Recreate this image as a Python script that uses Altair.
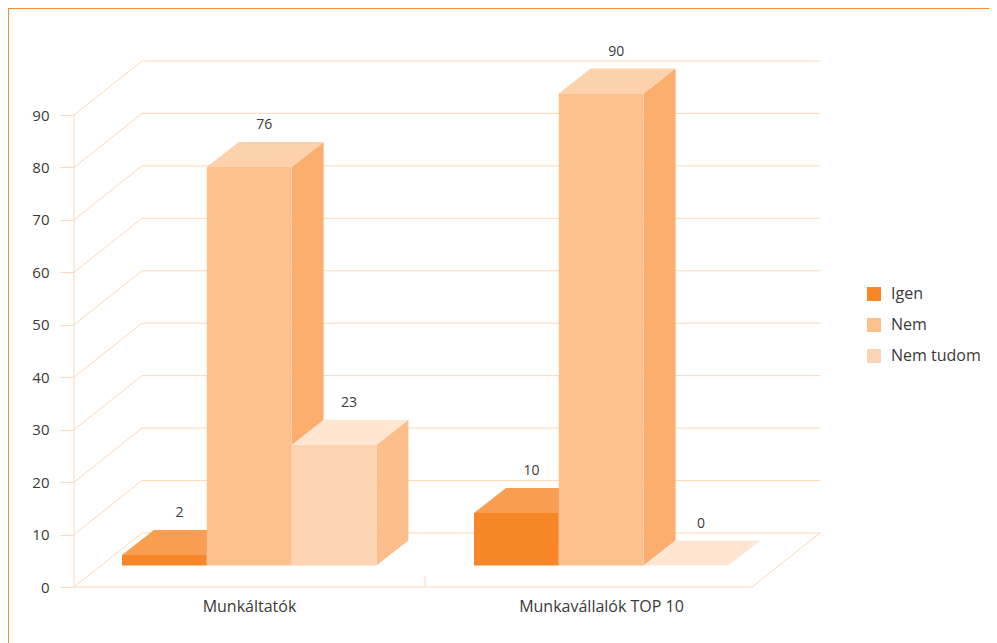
import altair as alt
import pandas as pd

groups = ["Munkáltatók", "Munkavállalók TOP 10"]
series = ["Igen", "Nem", "Nem tudom"]
values = {"Igen": [2, 10], "Nem": [76, 90], "Nem tudom": [23, 0]}
y_ticks = [0, 10, 20, 30, 40, 50, 60, 70, 80, 90]

front_colors = ["#F78628", "#FCC08C", "#FDD4B3"]
top_colors = ["#F99D50", "#FDD1AC", "#FEE6D3"]
side_colors = ["#F99D50", "#FCAE6E", "#FCBF8B"]
grid_color = "#FDD9B8"
frame_color = "#F78B36"
text_color = "#3A3A3A"
font = "Open Sans"

# plot coordinate system
X_MAX, Y_MAX = 746, 100.3
FLOOR_W = 678
WALL_DX, WALL_DY = 68, 10.3
BAR_W = 84.8
BAR_DX, BAR_DY = 32, 4.77
BASE = 4.1
group_start = [48, 400]
group_center = [175.5, 527.5]
divider_x = 351

xs = alt.Scale(domain=[0, X_MAX], nice=False, zero=False)
ys = alt.Scale(domain=[0, Y_MAX], nice=False, zero=False)
yaxis = alt.Axis(values=y_ticks, title=None, domain=False, grid=False, tickColor=grid_color,
                 tickSize=14, tickWidth=1, labelPadding=11, labelFont=font, labelFontSize=15,
                 labelColor=text_color, format="d")
X = alt.X("x:Q", scale=xs, axis=None, title=None)
Y = alt.Y("y:Q", scale=ys, axis=yaxis, title=None)
color_scale = alt.Scale(domain=series, range=front_colors)


def rule(rows, color=grid_color):
    return alt.Chart(pd.DataFrame(rows, columns=["x", "x2", "y", "y2"])).mark_rule(
        color=color, strokeWidth=1
    ).encode(X, Y, x2="x2:Q", y2="y2:Q")


layers = []
# back wall, left wall, floor
layers.append(rule([[WALL_DX, X_MAX, v + WALL_DY, v + WALL_DY] for v in y_ticks]))
layers.append(rule([[0, WALL_DX, v, v + WALL_DY] for v in y_ticks]))
layers.append(rule([[0, 0, 0, y_ticks[-1]], [0, FLOOR_W, 0, 0], [FLOOR_W, X_MAX, 0, WALL_DY],
                    [divider_x, divider_x, 0, 2]]))

labels = []
for si, s in enumerate(series):
    side, top, front = [], [], []
    for gi, g in enumerate(groups):
        x0 = group_start[gi] + si * BAR_W
        x1 = x0 + BAR_W
        v = values[s][gi]
        t = BASE + v
        side += [dict(g=g, x=x1, y=BASE, y2=t), dict(g=g, x=x1 + BAR_DX, y=BASE + BAR_DY, y2=t + BAR_DY)]
        top += [dict(g=g, x=x0, y=t, y2=t), dict(g=g, x=x0 + BAR_DX, y=t, y2=t + BAR_DY),
                dict(g=g, x=x1, y=t, y2=t + BAR_DY), dict(g=g, x=x1 + BAR_DX, y=t + BAR_DY, y2=t + BAR_DY)]
        front += [dict(g=g, s=s, x=x0, y=BASE, y2=t), dict(g=g, s=s, x=x1, y=BASE, y2=t)]
        labels.append(dict(x=x0 + BAR_W / 2 + 15, y=t + BAR_DY + 3.2, label=str(v)))
    layers.append(alt.Chart(pd.DataFrame(side)).mark_area(color=side_colors[si], interpolate="linear")
                  .encode(X, Y, y2="y2:Q", detail="g:N"))
    layers.append(alt.Chart(pd.DataFrame(top)).mark_area(color=top_colors[si], interpolate="linear")
                  .encode(X, Y, y2="y2:Q", detail="g:N"))
    layers.append(alt.Chart(pd.DataFrame(front)).mark_area(interpolate="linear").encode(
        X, Y, y2="y2:Q", detail="g:N",
        color=alt.Color("s:N", scale=color_scale, title=None, legend=alt.Legend(
            orient="none", legendX=792, legendY=225, symbolType="square", symbolSize=196,
            symbolStrokeWidth=0, labelFont=font, labelFontSize=16, labelColor=text_color,
            labelOffset=9, rowPadding=15, title=None))))

layers.append(alt.Chart(pd.DataFrame(labels)).mark_text(
    font=font, fontSize=14, color=text_color, baseline="middle", align="center"
).encode(X, Y, text="label:N"))

cat_df = pd.DataFrame({"x": group_center, "label": groups})
layers.append(alt.Chart(cat_df).mark_text(
    font=font, fontSize=16, color=text_color, baseline="middle", align="center"
).encode(X, y=alt.value(546), text="label:N"))

# outer frame
layers.append(alt.Chart().mark_rule(color=frame_color, strokeWidth=1).encode(
    x=alt.value(-65.5), y=alt.value(-53), y2=alt.value(582)))
layers.append(alt.Chart().mark_rule(color=frame_color, strokeWidth=1).encode(
    x=alt.value(-66), x2=alt.value(915), y=alt.value(-52.5)))

chart = alt.layer(*layers).properties(
    width=746, height=526,
    padding={"left": 66, "top": 53, "right": 169, "bottom": 56},
    autosize=alt.AutoSizeParams(type="none"),
).configure_view(stroke=None)

chart.save("out.html", embed_options={"renderer": "svg", "actions": False})
